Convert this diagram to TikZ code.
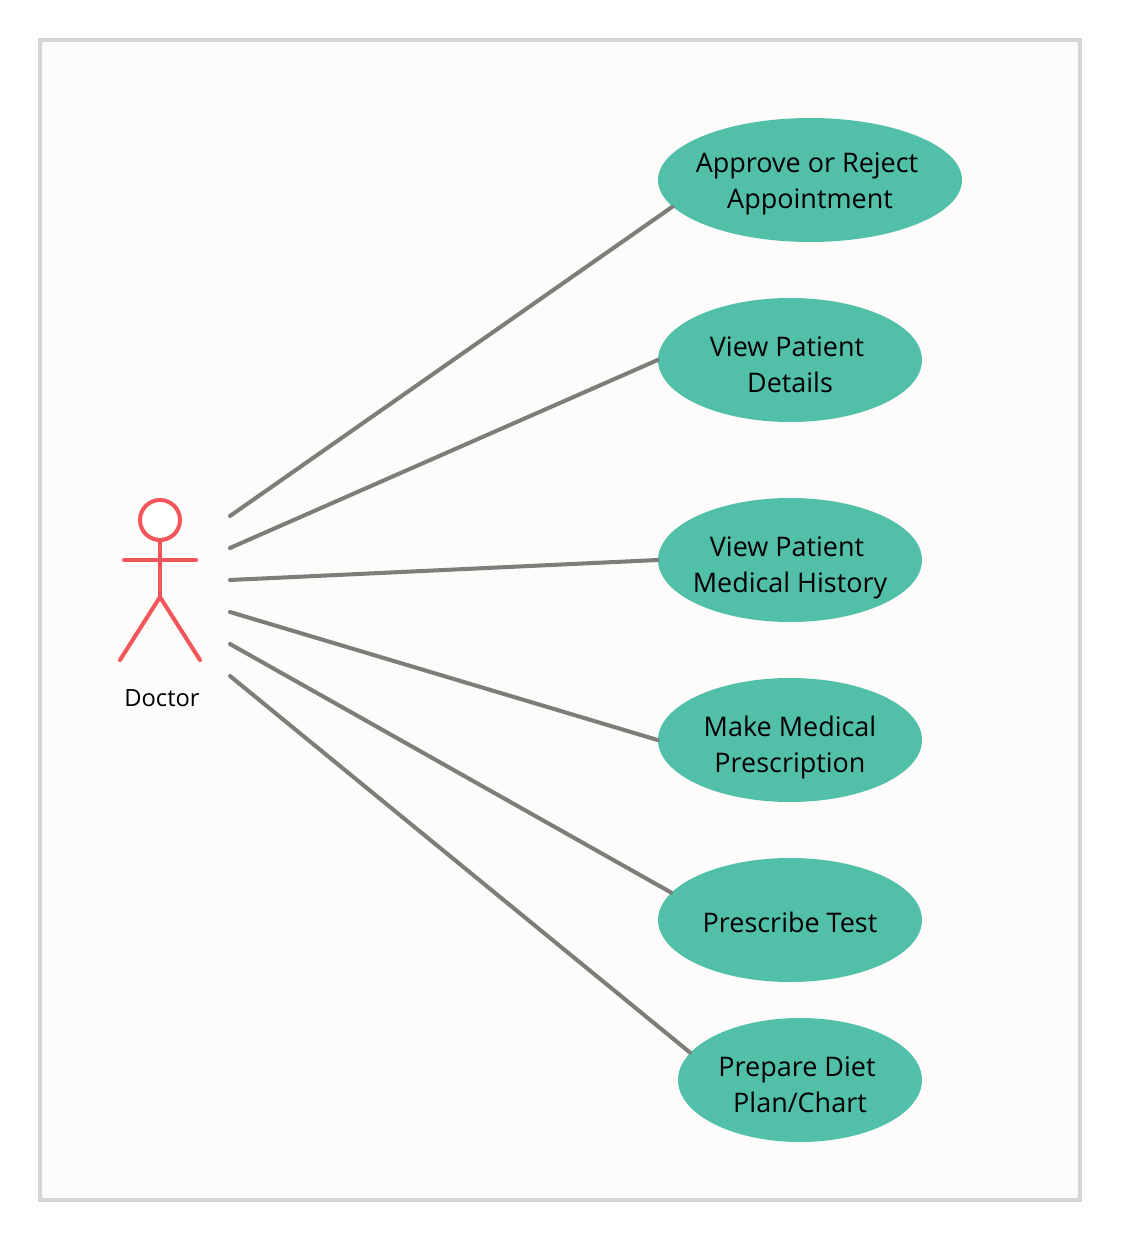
\documentclass[tikz,border=0pt]{standalone}
\usepackage{fontspec}
\setmainfont{Open Sans}
\usetikzlibrary{shapes.geometric}
\definecolor{panelfill}{HTML}{FDFCFB}
\definecolor{panelline}{HTML}{D6D6D6}
\definecolor{usefill}{HTML}{52BFA9}
\definecolor{linkgray}{HTML}{7E7D7A}
\definecolor{actorred}{HTML}{F2555A}
% push a first line down by #1 px, inside the ellipse
\newcommand{\dropline}[1]{\rule{0pt}{\dimexpr 12pt+#1\dimexpr 1.1384pt\relax\relax}}
% trailing gap that moves a line 3 px to the left
\newcommand{\tailgap}{\hspace*{0.12cm}}
\tikzset{
    usecase/.style={ellipse, fill=usefill, inner sep=-30pt, minimum height=124*0.02cm, align=center,
        font=\fontsize{15.35pt}{20.5pt}\selectfont},
    link/.style={linkgray, line width=2.3pt, line cap=round},
    actorline/.style={actorred, line width=2.3pt, line cap=round}
}
\begin{document}
\begin{tikzpicture}[x=0.02cm, y=-0.02cm]
    \useasboundingbox (0, 0) rectangle (1120, 1240);

    % Panel
    \draw[panelline, fill=panelfill, line width=2.3pt] (40, 40) rectangle (1080, 1200);

    % Actor
    \node[circle, draw=actorred, line width=2.3pt, fill=white, minimum size=40*0.02cm, inner sep=0pt] (head) at (160, 520) {};
    \coordinate (hip) at (160, 597);
    \coordinate (armL) at (124, 560);
    \coordinate (armR) at (196, 560);
    \coordinate (footL) at (120, 660);
    \coordinate (footR) at (200, 660);
    \draw[actorline] (head.south) -- (hip);
    \draw[actorline] (armL) -- (armR);
    \draw[actorline] (footL) -- (hip) -- (footR);
    \node[font=\fontsize{13.5pt}{16pt}\selectfont] (doctor) at (162, 698) {Doctor};

    % Use cases
    \node[usecase, minimum width=304*0.02cm] (approve) at (810, 180) {\dropline{3}Approve or Reject\tailgap\\Appointment};
    \node[usecase, minimum width=264*0.02cm] (details) at (790, 360) {\dropline{4}View Patient\tailgap\\Details};
    \node[usecase, minimum width=264*0.02cm] (history) at (790, 560) {\dropline{7}View Patient\tailgap\\Medical History};
    \node[usecase, minimum width=264*0.02cm] (prescription) at (790, 740) {\dropline{7}Make Medical\\Prescription};
    \node[usecase, minimum width=264*0.02cm] (test) at (790, 920) {\dropline{2}Prescribe Test};
    \node[usecase, minimum width=244*0.02cm] (diet) at (800, 1080) {\dropline{4}Prepare Diet\tailgap\\Plan/Chart};

    % Free ends beside the actor
    \coordinate (a1) at (230, 516);
    \coordinate (a2) at (230, 548);
    \coordinate (a3) at (230, 580);
    \coordinate (a4) at (230, 612);
    \coordinate (a5) at (230, 644);
    \coordinate (a6) at (230, 676);

    % Links
    \draw[link] (a1) -- (approve.191);
    \draw[link] (a2) -- (details.west);
    \draw[link] (a3) -- (history.west);
    \draw[link] (a4) -- (prescription.west);
    \draw[link] (a5) -- (test.167);
    \draw[link] (a6) -- (diet.166);
\end{tikzpicture}
\end{document}
